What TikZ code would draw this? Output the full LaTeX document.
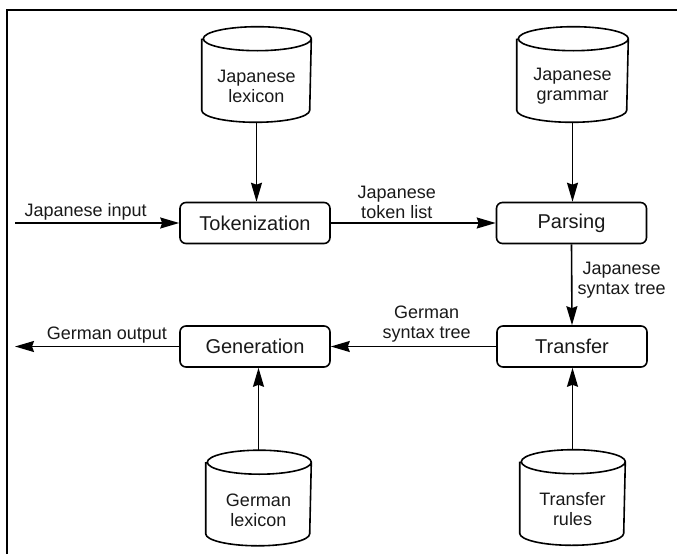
\documentclass[tikz,border=0pt]{standalone}
\usepackage{fontspec}
\setmainfont{Liberation Sans}
\usetikzlibrary{arrows.meta}

% outline of a data store: #1 = node, #2 = horizontal radius
\newcommand\drawstore[2]{%
  \draw ([yshift=-12pt]#1.north west) -- ([yshift=12pt]#1.south west)
    arc[start angle=180, end angle=360, x radius=#2, y radius=12pt]
    -- ([yshift=-12pt]#1.north east)
    arc[start angle=0, end angle=180, x radius=#2, y radius=12pt]
    arc[start angle=180, end angle=360, x radius=#2, y radius=12pt];}

\begin{document}
\begin{tikzpicture}[x=1pt, y=-1pt, line width=1.6pt,
  every node/.style={font=\fontsize{18}{20}\selectfont, text=black!90},
  proc/.style={draw, rounded corners=6pt, minimum width=150pt, minimum height=41pt,
    inner sep=0pt, font=\fontsize{20}{24}\selectfont},
  store/.style={minimum width=#1, minimum height=94pt, inner sep=0pt},
  storetext/.style={align=center, inner sep=0pt},
  flow/.style={-{Stealth[length=19pt, width=11pt, inset=2pt]}},
  lbl/.style={align=center, inner sep=2pt}]

\useasboundingbox (0,0) rectangle (677,554);

% frame
\draw[line width=1.6pt] (7,554) -- (7,10) -- (677,10);

% processing steps
\node[proc] (tok)   at (255,223)   {Tokenization};
\node[proc] (pars)  at (571.5,223) {Parsing};
\node[proc] (trans) at (572,346.5) {Transfer};
\node[proc] (gen)   at (255,346.5) {Generation};

% data stores
\node[store=108pt] (jlex)   at (256.5,74.5) {};
\node[store=110pt] (jgram)  at (572.5,74.5) {};
\node[store=104pt] (glex)   at (258.5,498)  {};
\node[store=104pt] (trules) at (572.5,497.5) {};
\drawstore{jlex}{54pt}
\drawstore{jgram}{55pt}
\drawstore{glex}{52pt}
\drawstore{trules}{52pt}
\node[storetext] (jlexT)   at ([yshift=-12pt]jlex.center)   {Japanese\\lexicon};
\node[storetext] (jgramT)  at ([yshift=-12pt]jgram.center)  {Japanese\\grammar};
\node[storetext] (glexT)   at ([yshift=-12pt]glex.center)   {German\\lexicon};
\node[storetext] (trulesT) at ([yshift=-12pt]trules.center) {Transfer\\rules};

% external ends
\coordinate (in)  at (15,223);
\coordinate (out) at (15,346.5);

% data flow
\draw[flow] (in) -- node[lbl, above, pos=0.43] (inL) {Japanese input} (tok.west);
\draw[flow] (tok.east) -- node[lbl, above, pos=0.40, inner sep=3.5pt] (tokL) {Japanese\\token list} (pars.west);
\draw[flow] (pars.south) -- node[lbl, right, pos=0.44, inner sep=5pt] (parsL) {Japanese\\syntax tree} (trans.north);
\draw[flow] (trans.west) -- node[lbl, above, pos=0.42, inner sep=3pt] (transL) {German\\syntax tree} (gen.east);
\draw[flow] (gen.west) -- node[lbl, above, pos=0.44] (outL) {German output} (out);

\draw[flow] (jlex.south) -- (jlex.south |- tok.north);
\draw[flow] (jgram.south) -- (jgram.south |- pars.north);
\draw[flow] (glex.north) -- (glex.north |- gen.south);
\draw[flow] (trules.north) -- (trules.north |- trans.south);
\end{tikzpicture}
\end{document}
